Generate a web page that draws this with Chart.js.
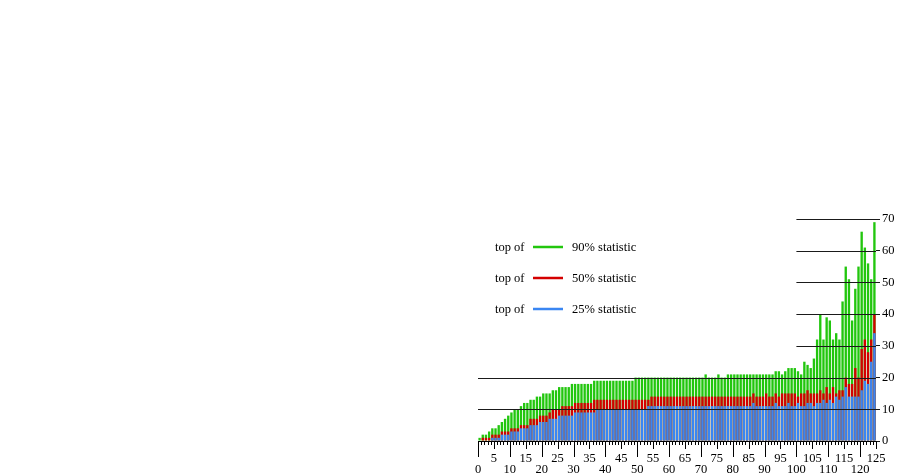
<!DOCTYPE html>
<html>
<head>
<meta charset="utf-8">
<style>
body { margin: 0; background: #fff; }
#wrap { width: 901px; height: 476px; }
</style>
</head>
<body>
<div id="wrap"><canvas id="chart" width="901" height="476"></canvas></div>
<script src="https://cdn.jsdelivr.net/npm/chart.js@4/dist/chart.umd.min.js"></script>
<script>
// bins along the x axis
var bins = [1,2,3,4,5,6,7,8,9,10,11,12,13,14,15,16,17,18,19,20,21,22,23,24,25,
  26,27,28,29,30,31,32,33,34,35,36,37,38,39,40,41,42,43,44,45,46,47,48,49,50,
  51,52,53,54,55,56,57,58,59,60,61,62,63,64,65,66,67,68,69,70,71,72,73,74,75,
  76,77,78,79,80,81,82,83,84,85,86,87,88,89,90,91,92,93,94,95,96,97,98,99,100,
  101,102,103,104,105,106,107,108,109,110,111,112,113,114,115,116,117,118,119,120,
  121,122,123,124,125];

// top of the 90% statistic
var stat90 = [1,2,2,3,4,4,5,6,7,8, 9,10,10,11,12,12,13,13,14,14,
  15,15,15,16,16,17,17,17,17,18, 18,18,18,18,18,18,19,19,19,19,
  19,19,19,19,19,19,19,19,19,20, 20,20,20,20,20,20,20,20,20,20,
  20,20,20,20,20,20,20,20,20,20, 20,21,20,20,20,21,20,20,21,21,
  21,21,21,21,21,21,21,21,21,21, 21,21,21,22,22,21,22,23,23,23,
  22,21,25,24,23,26,32,40,32,39, 38,32,34,32,44,55,51,38,48,55,
  66,61,56,51,69];

// top of the 50% statistic
var stat50 = [0,1,1,1,2,2,2,3,3,3, 4,4,4,5,5,5,7,7,7,8,
  8,8,9,10,10,10,11,11,11,11, 12,12,12,12,12,12,13,13,13,13,
  13,13,13,13,13,13,13,13,13,13, 13,13,13,13,14,14,14,14,14,14,
  14,14,14,14,14,14,14,14,14,14, 14,14,14,14,14,14,14,14,14,14,
  14,14,14,14,14,14,15,14,14,14, 15,14,14,15,14,15,15,15,15,15,
  14,15,15,16,15,15,15,16,15,17, 15,17,15,16,16,20,18,18,23,20,
  29,32,28,32,40];

// top of the 25% statistic
var stat25 = [0,0,0,0,1,1,1,2,2,2, 3,3,3,4,4,4,5,5,5,6,
  6,6,7,7,7,8,8,8,8,8, 9,9,9,9,9,9,9,10,10,10,
  10,10,10,10,10,10,10,10,10,10, 10,10,10,11,11,11,11,11,11,11,
  11,11,11,11,11,11,11,11,11,11, 11,11,11,11,11,11,11,11,11,11,
  11,11,11,11,11,11,12,11,11,11, 11,11,11,12,11,11,11,12,11,11,
  12,11,11,12,12,11,12,12,13,12, 13,12,14,13,14,17,14,14,14,14,
  16,19,18,25,34];

var yTicks = [0,10,20,30,40,50,60,70];
var legendNames = ['90% statistic','50% statistic','25% statistic'];

var GREEN = '#22c60e', RED = '#d40000', BLUE = '#3a86f2';
var SERIF = '"Liberation Serif", "DejaVu Serif", serif';

// horizontal reference lines: value and where (x value) each one starts
var refLines = [[10,0],[20,0],[30,100],[40,100],[50,100],[60,100],[70,100]];

var extras = {
  id: 'extras',
  afterDatasetsDraw: function(chart){
    var ctx = chart.ctx, xs = chart.scales.x, ys = chart.scales.y;
    ctx.save();
    ctx.strokeStyle = '#1a1a1a';
    ctx.lineWidth = 1.2;
    refLines.forEach(function(r){
      var py = Math.round(ys.getPixelForValue(r[0])) + 0.5;
      ctx.beginPath();
      ctx.moveTo(xs.getPixelForValue(r[1]), py);
      ctx.lineTo(chart.chartArea.right, py);
      ctx.stroke();
    });
    // x tick marks: every unit, longer at 5 and 10
    ctx.strokeStyle = '#000';
    ctx.lineWidth = 1;
    var y0 = chart.chartArea.bottom;
    for (var v = 0; v <= 125; v++) {
      var len = v % 10 === 0 ? 16 : (v % 5 === 0 ? 8 : 4);
      var px = Math.round(xs.getPixelForValue(v)) + 0.5;
      ctx.beginPath();
      ctx.moveTo(px, y0);
      ctx.lineTo(px, y0 + len);
      ctx.stroke();
    }
    // legend
    var cols = [GREEN, RED, BLUE];
    var rows = [248, 279, 310];
    ctx.font = '12.5px ' + SERIF;
    ctx.fillStyle = '#000';
    ctx.textBaseline = 'middle';
    for (var i = 0; i < 3; i++) {
      ctx.fillText('top of', 495, rows[i]);
      ctx.fillText(legendNames[i], 572, rows[i]);
      ctx.strokeStyle = cols[i];
      ctx.lineWidth = 2.5;
      ctx.beginPath();
      ctx.moveTo(533, rows[i] - 1);
      ctx.lineTo(563, rows[i] - 1);
      ctx.stroke();
    }
    ctx.restore();
  }
};

function bar(data, color){
  return {
    data: data,
    backgroundColor: color,
    borderWidth: 0,
    xAxisID: 'xb',
    barPercentage: 0.74,
    categoryPercentage: 1.0,
    grouped: false
  };
}

var config = {
  type: 'bar',
  data: {
    labels: bins,
    datasets: [bar(stat25, BLUE), bar(stat50, RED), bar(stat90, GREEN)]
  },
  options: {
    responsive: false,
    animation: false,
    layout: { padding: { left: 478, top: 219, right: 0, bottom: 0 } },
    plugins: { legend: { display: false }, tooltip: { enabled: false } },
    scales: {
      xb: { type: 'category', display: false, offset: true },
      x: {
        type: 'linear', position: 'bottom', min: 0, max: 125, offset: false,
        afterFit: function(s){ s.height = 35; },
        border: { display: true, color: '#000', width: 1 },
        grid: { offset: false, drawOnChartArea: false, color: 'rgba(0,0,0,0)', tickLength: 4 },
        ticks: {
          stepSize: 5, autoSkip: false, maxRotation: 0, padding: 8,
          color: '#000',
          font: { family: SERIF, size: 12.5, lineHeight: 0.9 },
          callback: function(v){ return v % 10 === 0 ? ['', String(v)] : [String(v)]; }
        }
      },
      y: {
        position: 'right', min: 0, max: 70,
        afterFit: function(s){ s.width = 25; },
        afterBuildTicks: function(s){ s.ticks = yTicks.map(function(v){ return {value: v}; }); },
        border: { display: false },
        grid: { drawOnChartArea: false, color: '#1a1a1a', tickLength: 4 },
        ticks: { padding: 2, color: '#000', font: { family: SERIF, size: 12.5 } }
      }
    }
  },
  plugins: [extras]
};

new Chart(document.getElementById('chart').getContext('2d'), config);
</script>
</body>
</html>
